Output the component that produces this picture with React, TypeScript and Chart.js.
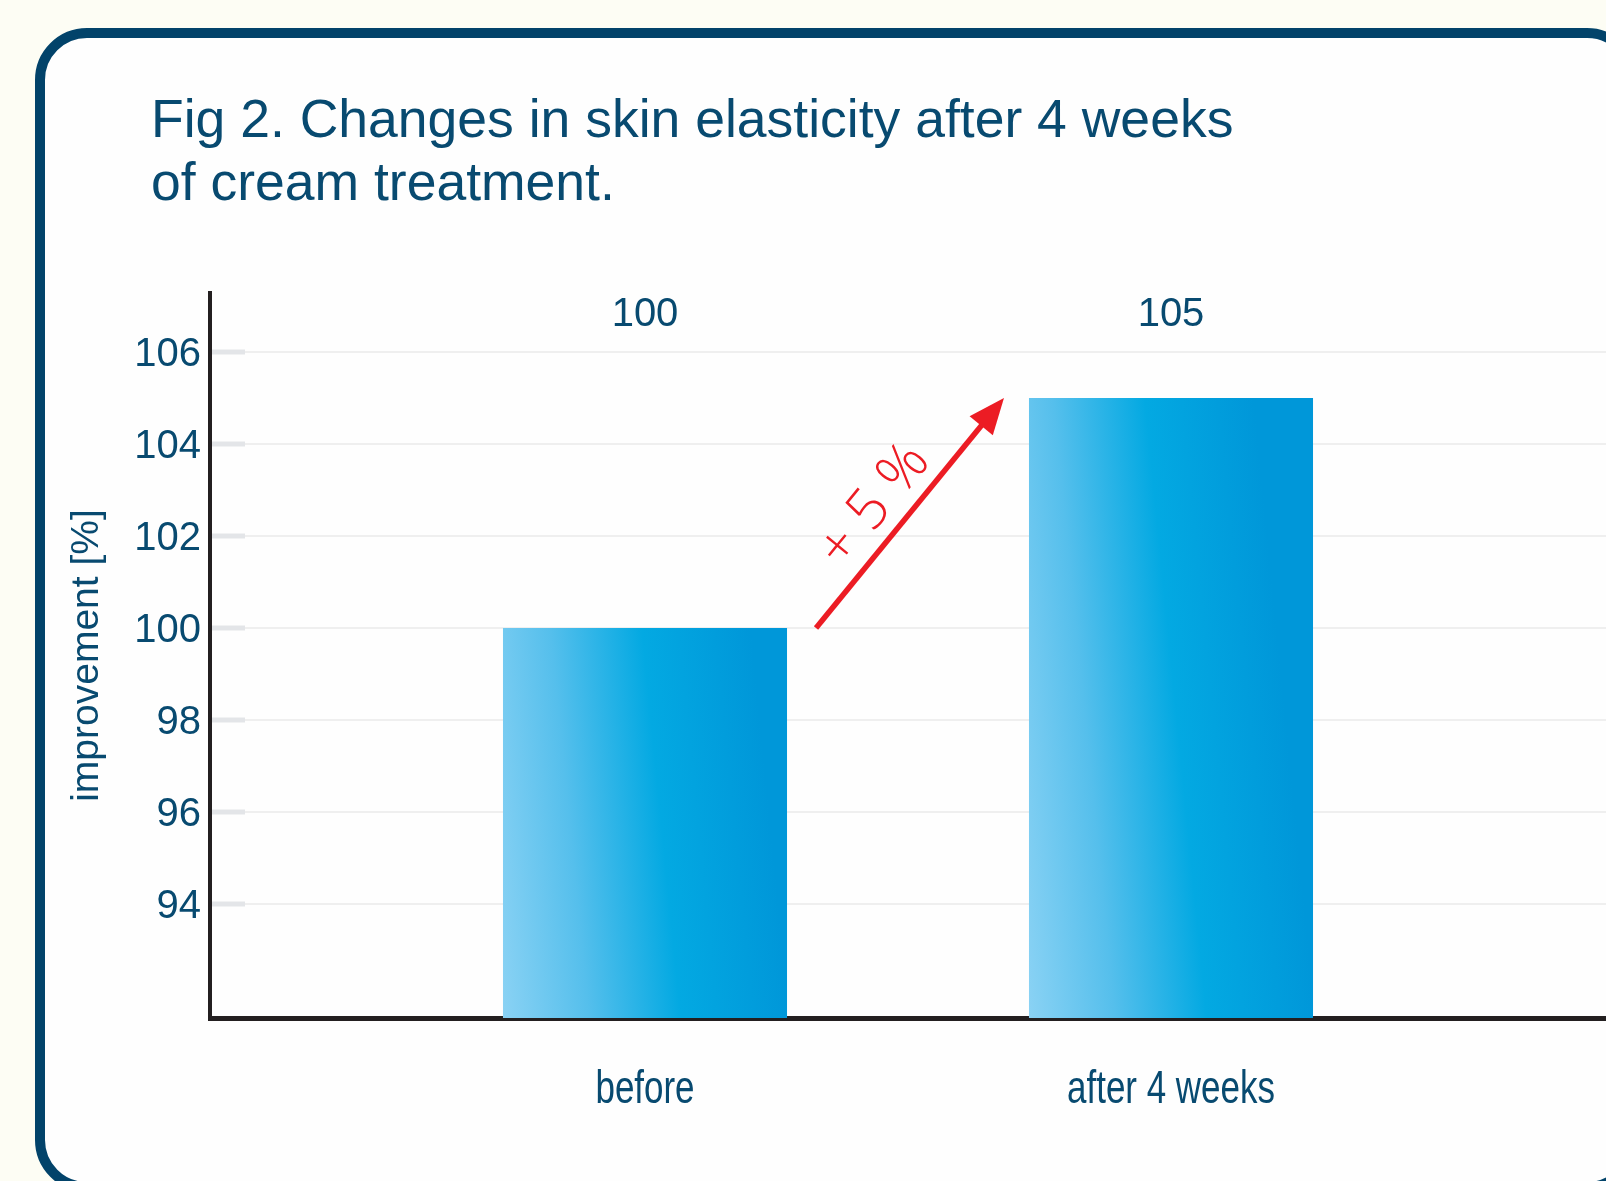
import React, { useEffect, useRef } from 'react';
import { Chart, registerables } from 'chart.js';

Chart.register(...registerables);

// ---- data ----
const categories = ['before', 'after 4 weeks'];
const categoryPositions = [1, 2];
const values = [100, 105];
const valueLabels = ['100', '105'];
const yTicks = [94, 96, 98, 100, 102, 104, 106];
const yRange = [91.52, 107.28];
const xRange = [0.173, 2.827];
const titleLines = ['Fig 2. Changes in skin elasticity after 4 weeks', 'of cream treatment.'];
const yAxisTitle = 'improvement [%]';
const changeLabel = '+ 5 %';

// ---- styles ----
const SANS = '"Liberation Sans", Arial, Helvetica, sans-serif';
const THIN = '"Open Sans", Lato, "Noto Sans", sans-serif';
const TEXT = '#084a70';
const AXIS = '#231f20';
const RED = '#ec1c24';
const FRAME = '#02436a';
const CAT_PCT = 0.6;
const BAR_PCT = 0.9;

function barGradient(c: any) {
  const chart = c.chart;
  if (c.type !== 'data' || !chart.chartArea) return '#03a9e2';
  const xs = chart.scales.x;
  const ys = chart.scales.y;
  const cx = xs.getPixelForValue(categoryPositions[c.dataIndex]);
  const step = Math.abs(xs.getPixelForValue(categoryPositions[1]) - xs.getPixelForValue(categoryPositions[0]));
  const half = (step * CAT_PCT * BAR_PCT) / 2;
  const l = cx - half;
  const r = cx + half;
  const base = ys.getPixelForValue(ys.min);
  const g = chart.ctx.createLinearGradient(l, base, r, base - half * 0.2);
  g.addColorStop(0, '#8ad2f4');
  g.addColorStop(0.3, '#55bfec');
  g.addColorStop(0.62, '#03a9e2');
  g.addColorStop(1, '#0097d9');
  return g;
}

const decorPlugin = {
  id: 'decor',
  beforeDatasetsDraw(chart: any) {
    const { ctx, chartArea, scales } = chart;
    const y = scales.y;
    ctx.save();
    ctx.strokeStyle = '#e3e5e8';
    ctx.lineWidth = 5;
    for (const t of yTicks) {
      const py = Math.round(y.getPixelForValue(t));
      ctx.beginPath();
      ctx.moveTo(chartArea.left + 2, py);
      ctx.lineTo(chartArea.left + 35, py);
      ctx.stroke();
    }
    ctx.restore();
  },
  afterDatasetsDraw(chart: any) {
    const { ctx, chartArea, scales } = chart;
    const y = scales.y;
    const x = scales.x;
    const meta = chart.getDatasetMeta(0);
    const bars = meta.data.map((el: any) => el.getProps(['x', 'y', 'width', 'base'], true));
    ctx.save();
    // value labels
    ctx.fillStyle = TEXT;
    ctx.font = `40px ${SANS}`;
    ctx.textAlign = 'center';
    ctx.textBaseline = 'middle';
    bars.forEach((b: any, i: number) => {
      ctx.fillText(valueLabels[i], b.x, chartArea.top + 22);
    });
    // category labels (condensed)
    ctx.font = `46px ${SANS}`;
    ctx.textBaseline = 'alphabetic';
    categories.forEach((cat, i) => {
      const px = x.getPixelForValue(categoryPositions[i]);
      ctx.save();
      ctx.translate(px, chartArea.bottom + 85);
      ctx.scale(0.76, 1);
      ctx.fillText(cat, 0, 0);
      ctx.restore();
    });
    // arrow
    const b0 = bars[0];
    const b1 = bars[1];
    const sx = b0.x + b0.width / 2 + 29;
    const sy = y.getPixelForValue(values[0]);
    const ex = b1.x - b1.width / 2 - 25;
    const ey = y.getPixelForValue(values[1]);
    const dx = ex - sx;
    const dy = ey - sy;
    const len = Math.hypot(dx, dy);
    const ux = dx / len;
    const uy = dy / len;
    const headLen = 36;
    const headHalf = 15;
    const bx = ex - ux * headLen;
    const by = ey - uy * headLen;
    ctx.strokeStyle = RED;
    ctx.lineWidth = 5.5;
    ctx.beginPath();
    ctx.moveTo(sx, sy);
    ctx.lineTo(bx + ux * 2, by + uy * 2);
    ctx.stroke();
    ctx.fillStyle = RED;
    ctx.beginPath();
    ctx.moveTo(ex, ey);
    ctx.lineTo(bx - uy * headHalf, by + ux * headHalf);
    ctx.lineTo(bx + uy * headHalf, by - ux * headHalf);
    ctx.closePath();
    ctx.fill();
    const nx = uy;
    const ny = -ux;
    const t = len * 0.47 - 8;
    const cx = sx + ux * t + nx * 32;
    const cy = sy + uy * t + ny * 32;
    ctx.translate(cx, cy);
    ctx.rotate(Math.atan2(dy, dx));
    ctx.font = `300 57px ${THIN}`;
    ctx.textAlign = 'center';
    ctx.textBaseline = 'middle';
    ctx.fillText(changeLabel, 0, 0);
    ctx.restore();
  },
};

export default function App() {
  const ref = useRef<HTMLCanvasElement>(null);
  useEffect(() => {
    const canvas = ref.current;
    if (!canvas) return;
    const chart = new Chart(canvas, {
      type: 'bar',
      data: {
        datasets: [
          {
            data: categoryPositions.map((x, i) => ({ x, y: values[i] })),
            backgroundColor: barGradient,
            borderWidth: 0,
            categoryPercentage: CAT_PCT,
            barPercentage: BAR_PCT,
          } as any,
        ],
      },
      options: {
        responsive: false,
        animation: false,
        devicePixelRatio: 1,
        layout: { padding: { left: 0, right: 0, top: 293, bottom: 63 } },
        plugins: {
          legend: { display: false },
          tooltip: { enabled: false },
          title: { display: false },
        },
        scales: {
          x: {
            type: 'linear',
            min: xRange[0],
            max: xRange[1],
            offset: false,
            z: 1,
            grid: { display: false, drawTicks: false, offset: false },
            border: { display: true, color: AXIS, width: 5 },
            ticks: { display: false },
            afterBuildTicks: (s: any) => {
              s.ticks = categoryPositions.map((v) => ({ value: v }));
            },
            afterFit: (s: any) => {
              s.height = 100;
            },
          },
          y: {
            type: 'linear',
            min: yRange[0],
            max: yRange[1],
            grid: { color: '#efefef', lineWidth: 2, drawTicks: false },
            border: { display: true, color: AXIS, width: 4 },
            ticks: { padding: 9, labelOffset: 3, color: TEXT, font: { family: SANS, size: 40 } },
            afterBuildTicks: (s: any) => {
              s.ticks = yTicks.map((v) => ({ value: v }));
            },
            afterFit: (s: any) => {
              s.width = 210;
            },
            title: {
              display: true,
              text: yAxisTitle,
              color: TEXT,
              font: { family: SANS, size: 39 },
              padding: { top: 64, bottom: 0 },
            },
          },
        } as any,
      },
      plugins: [decorPlugin],
    });
    return () => chart.destroy();
  }, []);

  return (
    <div
      style={{
        position: 'fixed',
        left: 0,
        top: 0,
        width: 1606,
        height: 1181,
        overflow: 'hidden',
        background: '#fdfdf4',
      }}
    >
      <div
        style={{
          position: 'absolute',
          left: 35,
          top: 28,
          width: 1604,
          height: 1164,
          boxSizing: 'border-box',
          border: `10px solid ${FRAME}`,
          borderRadius: 52,
          background: '#fefefe',
        }}
      />
      <div
        style={{
          position: 'absolute',
          left: 151,
          top: 87,
          fontFamily: SANS,
          fontSize: 53.5,
          lineHeight: '63px',
          color: TEXT,
          whiteSpace: 'pre',
        }}
      >
        {titleLines.map((l) => (
          <div key={l}>{l}</div>
        ))}
      </div>
      <canvas
        ref={ref}
        width={1606}
        height={1181}
        style={{ position: 'absolute', left: 0, top: 0, width: 1606, height: 1181 }}
      />
    </div>
  );
}
